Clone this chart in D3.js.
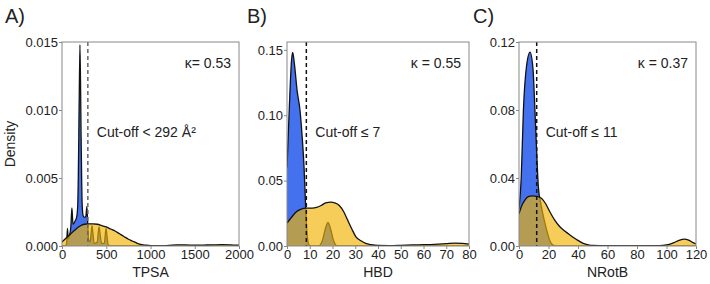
<!DOCTYPE html>
<html>
<head>
<meta charset="utf-8">
<script src="https://cdn.jsdelivr.net/npm/d3@7"></script>
<style>
  body { margin: 0; background: #fff; }
  svg { display: block; font-family: "Liberation Sans", Arial, sans-serif; }
</style>
</head>
<body>
<svg id="chart" width="710" height="284"></svg>
<script>
// density curves, [value, density]
const tpsaBlue = [[0,0],[40,0],[52,0.0002],[62,0.0013],[70,0.0005],[85,0.0008],[100,0.0014],[112,0.0028],[124,0.0016],[145,0.0018],[165,0.0021],[178,0.003],[190,0.008],[203,0.0148],[216,0.008],[228,0.003],[240,0.0022],[255,0.0021],[270,0.0022],[281,0.0029],[291,0.0016],[300,0.0005],[318,0.0003],[330,0.0010],[339,0.0015],[348,0.0010],[365,0.0002],[398,0.0003],[410,0.0010],[419,0.0014],[428,0.0010],[448,0.0002],[478,0.0002],[490,0.0009],[498,0.0013],[507,0.0008],[522,0.0001],[560,0],[2000,0]];
const tpsaGold = [[0,0.0003],[50,0.0006],[100,0.0009],[150,0.0012],[200,0.00145],[250,0.0016],[300,0.00163],[350,0.00163],[400,0.0016],[450,0.0015],[500,0.0014],[550,0.00125],[600,0.0011],[650,0.0009],[700,0.0007],[750,0.0005],[800,0.00035],[850,0.0002],[900,0.0001],[950,0.00006],[1000,0.00003],[1100,0.00001],[1200,0.00004],[1300,0.00009],[1400,0.00008],[1500,0.00006],[1600,0.00007],[1700,0.00008],[1800,0.0001],[1900,0.00009],[2000,0.00006]];

const hbdBlue = [[0,0.06],[1,0.105],[2,0.142],[2.5,0.148],[3.2,0.14],[4.5,0.118],[5.7,0.104],[6.6,0.085],[7.5,0.06],[8.2,0.03],[8.8,0.01],[9.6,0.001],[10.5,0],[14,0],[15.5,0.004],[17,0.014],[18,0.018],[19,0.014],[20.5,0.004],[22,0],[80,0]];
const hbdGold = [[0,0.0175],[2,0.022],[4,0.026],[6,0.028],[8.5,0.029],[11,0.029],[13,0.0295],[15,0.031],[17,0.033],[19.3,0.0335],[21,0.033],[23,0.031],[25,0.026],[26.6,0.020],[28.5,0.013],[30.3,0.007],[32.5,0.004],[34.6,0.002],[37,0.001],[40,0.0004],[45,0.0003],[50,0.0005],[55,0.0008],[60,0.001],[65,0.0013],[70,0.0018],[74,0.0022],[77,0.002],[80,0.0015]];

const nrotbBlue = [[0,0.022],[1.5,0.04],[3,0.08],[5,0.105],[7.5,0.114],[9.5,0.104],[10.8,0.08],[12,0.055],[13.1,0.035],[15,0.024],[18,0.012],[21,0.003],[23,0.0005],[25,0],[120,0]];
const nrotbGold = [[0,0.019],[2,0.024],[4,0.027],[6.3,0.029],[9,0.0295],[12,0.0292],[15.4,0.028],[18,0.025],[21,0.020],[24,0.0155],[27.7,0.0113],[31,0.0088],[34.5,0.0065],[39,0.0038],[43.5,0.0016],[47,0.0007],[50,0.0003],[60,0.0001],[80,0.0001],[95,0.0002],[100,0.0006],[105,0.002],[109,0.0035],[112,0.004],[115,0.0035],[118,0.002],[120,0.0012]];

const panelLetters = ["A)", "B)", "C)"];
const axisTitles = ["TPSA", "HBD", "NRotB"];
const xTicks = [[0,500,1000,1500,2000], [0,10,20,30,40,50,60,70,80], [0,20,40,60,80,100,120]];
const yTicks = [[0,0.005,0.010,0.015], [0,0.05,0.10,0.15], [0,0.04,0.08,0.12]];
const yFormats = [".3f", ".2f", ".2f"];
const xMax = [2000, 80, 120];
const yMax = [0.015, 0.156, 0.12];
const cutoffs = [292, 8.5, 12];
const cutoffLabels = ["Cut-off < 292 Å²", "Cut-off ≤ 7", "Cut-off ≤ 11"];
const kappaLabels = ["κ= 0.53", "κ = 0.55", "κ = 0.37"];

const blueSeries = [tpsaBlue, hbdBlue, nrotbBlue];
const goldSeries = [tpsaGold, hbdGold, nrotbGold];

// panel boxes
const panels = [
    { left: 62, width: 177, letterX: 5, dash: "#666" },
    { left: 287, width: 182, letterX: 247, dash: "#111" },
    { left: 519, width: 177, letterX: 473, dash: "#111" }
];
const plotTop = 42, plotHeight = 204;

const svg = d3.select("#chart");

panels.forEach((p, i) => {
    const g = svg.append("g").attr("transform", "translate(" + p.left + "," + plotTop + ")");

    const x = d3.scaleLinear().domain([0, xMax[i]]).range([0, p.width]);
    const y = d3.scaleLinear().domain([0, yMax[i]]).range([plotHeight, 0]);

    const clipId = "clip" + i;
    g.append("clipPath").attr("id", clipId)
        .append("rect").attr("width", p.width).attr("height", plotHeight);

    const area = d3.area().x(d => x(d[0])).y0(plotHeight).y1(d => y(d[1])).curve(d3.curveMonotoneX);
    const line = d3.line().x(d => x(d[0])).y(d => y(d[1])).curve(d3.curveMonotoneX);

    const plot = g.append("g").attr("clip-path", "url(#" + clipId + ")");

    // blue first, gold semi transparent on top
    plot.append("path").datum(blueSeries[i])
        .attr("d", area).attr("fill", "#4472ee");
    plot.append("path").datum(blueSeries[i])
        .attr("d", line).attr("fill", "none").attr("stroke", "#111").attr("stroke-width", 1.3);
    plot.append("path").datum(goldSeries[i])
        .attr("d", area).attr("fill", "rgb(242,178,0)").attr("fill-opacity", 0.65);
    plot.append("path").datum(goldSeries[i])
        .attr("d", line).attr("fill", "none").attr("stroke", "#111").attr("stroke-width", 1.3);

    // cut-off line
    g.append("line")
        .attr("x1", x(cutoffs[i])).attr("x2", x(cutoffs[i]))
        .attr("y1", 0).attr("y2", plotHeight)
        .attr("stroke", p.dash).attr("stroke-width", 1.5)
        .attr("stroke-dasharray", "4,3");

    // frame
    g.append("rect").attr("width", p.width).attr("height", plotHeight)
        .attr("fill", "none").attr("stroke", "#888").attr("stroke-width", 1);

    // axes
    const xAxis = d3.axisBottom(x).tickValues(xTicks[i]).tickSize(3).tickPadding(1).tickFormat(d3.format("d"));
    const yAxis = d3.axisLeft(y).tickValues(yTicks[i]).tickSize(3).tickPadding(1).tickFormat(d3.format(yFormats[i]));

    const gx = g.append("g").attr("transform", "translate(0," + plotHeight + ")").call(xAxis);
    const gy = g.append("g").call(yAxis);
    [gx, gy].forEach(a => {
        a.select(".domain").remove();
        a.selectAll("line").attr("stroke", "#888");
        a.selectAll("text").attr("fill", "#222").style("font-size", "13px");
    });

    // axis title
    g.append("text")
        .attr("x", p.width / 2).attr("y", 235)
        .attr("text-anchor", "middle")
        .style("font-size", "14px").attr("fill", "#222")
        .text(axisTitles[i]);

    // kappa label
    g.append("text")
        .attr("x", p.width - 8).attr("y", 26)
        .attr("text-anchor", "end")
        .style("font-size", "14px").attr("fill", "#222")
        .text(kappaLabels[i]);

    // cut-off label
    g.append("text")
        .attr("x", x(cutoffs[i]) + 9).attr("y", 95)
        .style("font-size", "14px").attr("fill", "#222")
        .text(cutoffLabels[i]);

    // panel letter
    svg.append("text")
        .attr("x", p.letterX).attr("y", 23)
        .style("font-size", "20px").attr("fill", "#222")
        .text(panelLetters[i]);
});

// y axis title
svg.append("text")
    .attr("transform", "translate(15," + (plotTop + plotHeight / 2) + ") rotate(-90)")
    .attr("text-anchor", "middle")
    .style("font-size", "14px").attr("fill", "#222")
    .text("Density");
</script>
</body>
</html>
